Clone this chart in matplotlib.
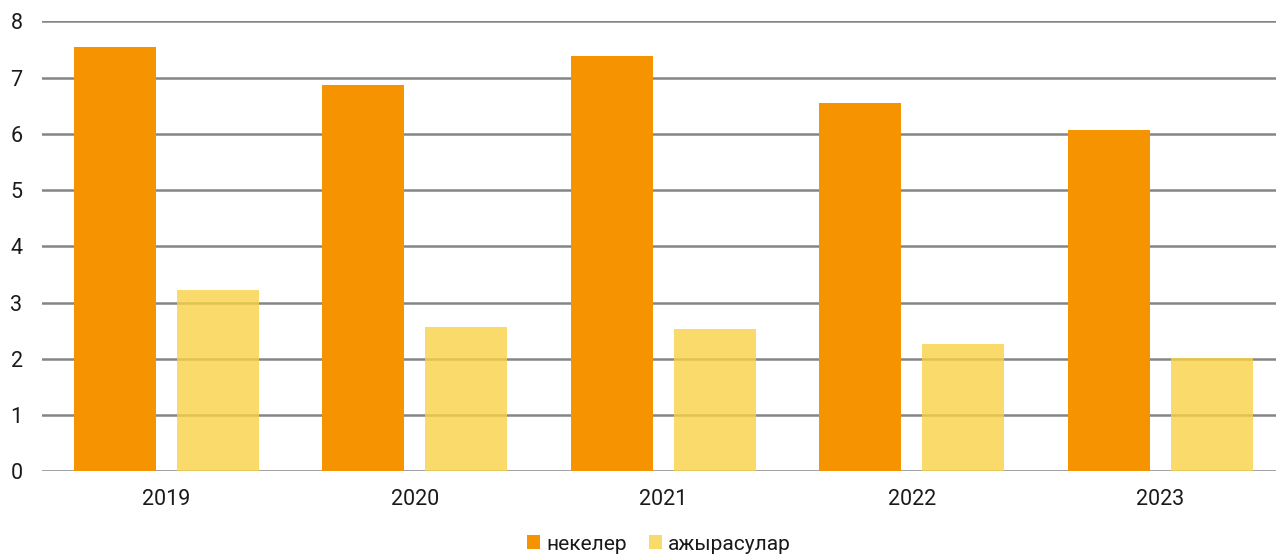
import matplotlib
matplotlib.use("Agg")
import matplotlib.pyplot as plt
import numpy as np

years = ["2019", "2020", "2021", "2022", "2023"]
marriages = [7.54, 6.87, 7.38, 6.54, 6.07]
divorces = [3.22, 2.56, 2.53, 2.26, 2.01]
series_names = ["некелер", "ажырасулар"]
y_ticks = [0, 1, 2, 3, 4, 5, 6, 7, 8]

plt.rcParams['font.family'] = ['Roboto', 'DejaVu Sans']

fig = plt.figure(figsize=(12.76, 5.54), dpi=100)
ax = fig.add_axes([42/1276, 82.7/554, 1 - 42/1276, 450/554])

x = np.arange(len(years))
w = 0.33
off = 0.207
ax.bar(x - off, marriages, width=w, color="#F59300", zorder=3, label=series_names[0])
ax.bar(x + off, divorces, width=w, color="#F8D145", alpha=0.8, zorder=3, label=series_names[1])

ax.set_ylim(0, 8)
ax.set_xlim(-0.5, -0.5 + 1234/248.5)
ax.set_yticks(y_ticks)
ax.set_yticklabels([str(t) for t in y_ticks])
ax.set_xticks(x)
ax.set_xticklabels(years)
ax.yaxis.grid(True, color="#858585", linewidth=1.8, zorder=2)
ax.set_axisbelow(False)
for s in ax.spines.values():
    s.set_visible(False)
ax.tick_params(axis='both', length=0, labelsize=15.5, colors="#1a1a1a")
ax.tick_params(axis='y', pad=14)
ax.tick_params(axis='x', pad=13)

handles, labels = ax.get_legend_handles_labels()
fig.legend(handles, labels, loc='center', bbox_to_anchor=(659/1276, 10/554),
           ncol=2, frameon=False, fontsize=15, handlelength=0.62, handleheight=0.62,
           handletextpad=0.3, columnspacing=1.05, borderaxespad=0,
           labelcolor="#1a1a1a")

fig.savefig("out.png", dpi=100)
